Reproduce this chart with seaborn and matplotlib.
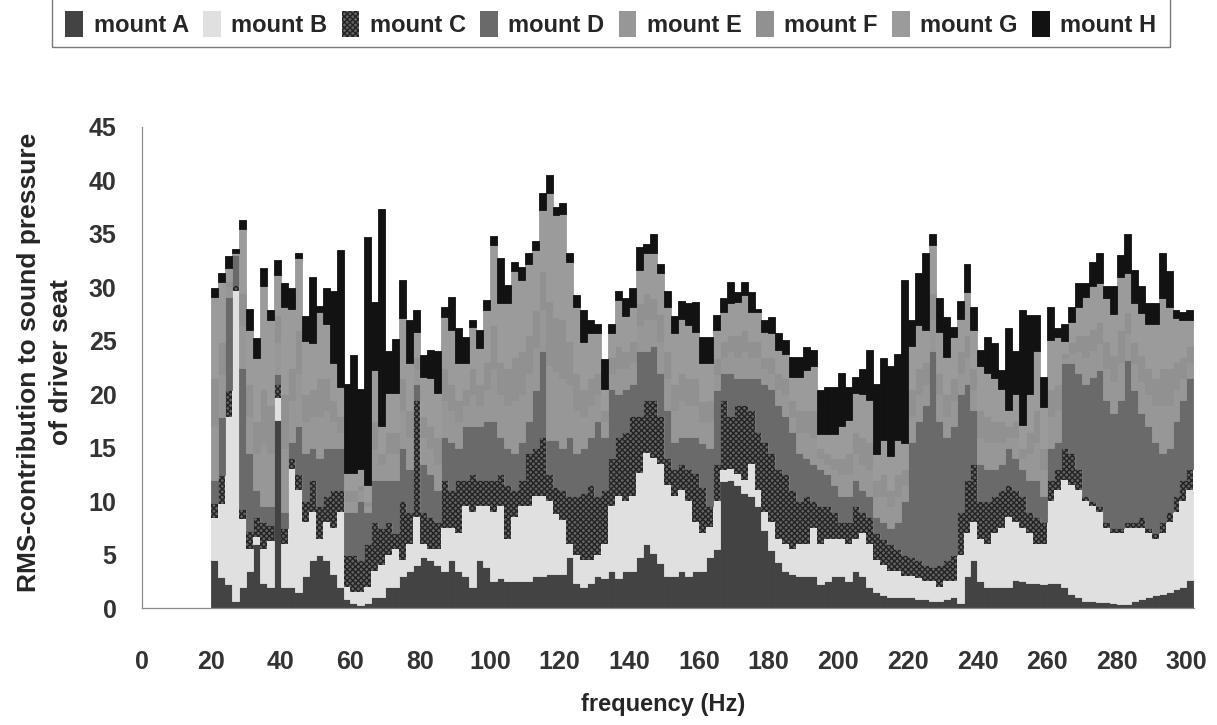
import numpy as np
import pandas as pd
import matplotlib
matplotlib.use("Agg")
import matplotlib.pyplot as plt
from matplotlib.patches import Patch, Rectangle
from matplotlib import colors as mcolors
import seaborn as sns

# frequency bins (Hz), 2 Hz wide, 20 ... 300
freqs = list(range(20, 302, 2))

# cumulative tops of the stacked layers
top_A = [4.5, 2.9, 2.2, 0.7, 2.0, 3.5, 6.0, 2.3, 2.0, 17.6,
         2.0, 2.0, 1.5, 3.0, 4.5, 5.0, 4.5, 3.2, 2.0, 0.8,
         0.5, 0.3, 0.5, 1.0, 1.0, 2.0, 2.0, 3.0, 3.5, 4.0,
         4.8, 4.5, 4.0, 3.5, 4.5, 3.5, 3.0, 2.0, 4.5, 3.8,
         2.5, 2.8, 2.5, 2.5, 2.5, 2.5, 3.0, 3.0, 3.2, 3.2,
         3.2, 4.8, 2.3, 2.0, 2.3, 3.0, 2.8, 3.5, 2.8, 3.5,
         3.5, 4.8, 6.0, 5.1, 4.2, 3.0, 3.0, 3.5, 3.0, 3.5,
         3.5, 4.8, 5.5, 11.9, 12.0, 11.5, 10.8, 10.5, 9.5, 7.3,
         5.4, 4.3, 3.5, 3.2, 3.0, 3.0, 3.0, 2.2, 2.5, 3.0,
         3.0, 2.5, 3.5, 3.0, 2.0, 1.5, 1.2, 1.0, 1.0, 1.0,
         1.0, 0.8, 0.8, 0.7, 0.7, 0.8, 1.0, 0.5, 3.0, 4.5,
         2.5, 2.0, 2.0, 2.0, 2.0, 2.6, 2.5, 2.3, 2.3, 2.2,
         2.3, 2.3, 2.0, 1.3, 1.0, 0.7, 0.7, 0.6, 0.6, 0.5,
         0.4, 0.4, 0.7, 0.8, 1.0, 1.2, 1.3, 1.5, 1.8, 2.0, 2.6]
top_B = [8.4, 9.7, 17.9, 29.7, 8.3, 5.5, 6.6, 5.5, 6.3, 19.6,
         6.0, 13.0, 11.0, 8.0, 9.0, 6.5, 8.0, 7.5, 9.0, 2.0,
         1.5, 1.5, 2.0, 3.5, 4.0, 5.0, 5.5, 4.5, 6.0, 8.5,
         6.0, 5.5, 5.5, 7.5, 7.5, 7.0, 9.5, 9.0, 9.5, 9.5,
         9.0, 9.5, 6.5, 8.5, 9.5, 9.5, 10.5, 10.5, 10.0, 8.8,
         8.2, 6.0, 5.0, 4.5, 4.5, 5.0, 6.0, 9.5, 10.5, 10.0,
         10.5, 12.6, 14.5, 14.0, 13.5, 11.5, 10.5, 11.0, 10.0, 8.0,
         7.0, 7.6, 10.0, 12.9, 13.0, 12.5, 12.0, 13.5, 11.0, 9.0,
         8.0, 6.5, 6.0, 5.5, 6.0, 6.0, 7.5, 6.0, 6.5, 6.5,
         6.5, 6.0, 6.5, 7.0, 6.0, 4.5, 4.0, 3.5, 3.5, 3.0,
         3.0, 2.8, 2.5, 2.5, 2.0, 2.5, 2.5, 5.0, 7.0, 8.0,
         6.5, 6.0, 7.0, 7.5, 8.5, 8.0, 7.5, 7.0, 6.0, 6.0,
         10.0, 11.0, 12.0, 11.5, 11.0, 10.0, 9.5, 9.0, 7.5, 7.0,
         7.0, 7.5, 7.5, 7.5, 7.0, 6.5, 7.0, 8.0, 9.0, 10.0, 11.0]
top_C = [9.8, 12.4, 20.4, 30.2, 9.3, 7.2, 8.5, 8.0, 7.8, 21.0,
         7.5, 14.0, 12.5, 10.0, 12.0, 9.5, 10.5, 11.0, 11.0, 5.0,
         5.0, 4.5, 6.0, 8.0, 7.5, 8.0, 7.0, 10.0, 9.0, 19.5,
         9.0, 8.5, 8.0, 12.0, 11.0, 12.0, 12.0, 12.5, 12.0, 12.0,
         12.0, 12.5, 11.5, 11.0, 12.0, 14.5, 15.0, 16.0, 12.5, 11.3,
         11.0, 10.5, 10.5, 10.8, 11.5, 10.5, 11.0, 14.0, 16.0, 16.5,
         18.0, 18.0, 19.5, 19.5, 18.0, 14.0, 13.0, 13.5, 13.0, 12.6,
         11.3, 9.5, 13.5, 19.5, 18.0, 19.0, 19.0, 18.5, 16.5, 15.5,
         14.5, 13.0, 12.5, 11.0, 10.0, 10.5, 10.0, 9.5, 9.5, 9.0,
         8.0, 8.0, 9.5, 9.0, 8.5, 7.0, 6.5, 6.0, 5.5, 5.0,
         4.8, 4.5, 4.0, 3.8, 4.0, 4.5, 5.0, 9.0, 12.0, 13.5,
         10.0, 10.0, 10.5, 11.0, 11.5, 11.0, 10.5, 9.0, 8.5, 8.0,
         12.0, 13.0, 15.0, 14.5, 13.0, 10.5, 10.0, 9.5, 8.0, 7.5,
         7.5, 8.0, 8.0, 8.5, 7.5, 7.0, 8.0, 9.0, 10.5, 12.0, 13.0]
top_D = [12.0, 17.9, 29.1, 33.0, 22.5, 14.5, 11.0, 9.5, 9.5, 21.9,
         9.0, 15.5, 17.0, 14.5, 15.0, 14.0, 15.0, 15.0, 15.0, 9.0,
         9.0, 10.0, 9.0, 12.0, 12.0, 12.0, 12.0, 15.0, 13.0, 21.0,
         13.5, 12.5, 11.0, 16.0, 15.5, 15.0, 17.0, 17.0, 17.0, 17.5,
         17.5, 16.0, 15.0, 14.5, 15.5, 17.5, 20.4, 24.0, 15.7, 15.7,
         15.0, 16.0, 14.5, 15.0, 16.0, 17.5, 16.0, 20.5, 20.0, 20.5,
         21.0, 24.0, 24.0, 24.5, 22.0, 18.5, 15.5, 16.0, 16.0, 16.0,
         15.4, 15.0, 20.4, 22.0, 22.0, 21.5, 21.5, 21.5, 21.5, 21.0,
         20.5, 19.0, 18.0, 16.5, 14.5, 14.0, 13.5, 13.0, 12.5, 11.5,
         10.5, 10.5, 12.0, 11.0, 10.5, 8.5, 8.0, 7.5, 8.0, 10.0,
         15.5, 17.5, 19.0, 24.0, 17.5, 16.0, 17.0, 20.0, 21.0, 18.5,
         13.5, 13.0, 13.0, 13.5, 15.0, 14.0, 13.0, 12.0, 12.0, 10.5,
         15.0, 15.5, 22.9, 22.9, 22.0, 21.0, 21.6, 22.3, 19.5, 18.2,
         19.5, 23.2, 20.4, 18.2, 17.0, 15.5, 14.5, 15.0, 17.5, 19.5, 21.5]
top_G = [29.1, 30.5, 31.8, 33.2, 35.5, 26.0, 23.4, 30.1, 26.9, 31.2,
         28.2, 28.0, 32.7, 25.0, 24.8, 27.7, 26.6, 22.9, 20.7, 12.6,
         12.6, 13.0, 11.5, 22.3, 17.0, 20.1, 20.1, 27.1, 22.9, 25.8,
         21.6, 21.5, 20.1, 27.2, 26.0, 22.9, 22.9, 26.3, 24.3, 27.9,
         34.0, 28.5, 28.5, 31.5, 30.7, 32.2, 33.5, 37.2, 38.8, 36.8,
         36.9, 32.4, 28.2, 24.9, 25.7, 25.7, 20.5, 25.7, 28.8, 27.3,
         28.2, 31.6, 33.2, 33.2, 31.3, 28.2, 25.7, 27.0, 26.5, 25.8,
         22.9, 22.9, 26.0, 27.7, 28.5, 28.6, 29.3, 27.7, 27.7, 25.8,
         25.7, 24.1, 23.8, 21.6, 21.6, 22.3, 22.6, 16.3, 16.3, 16.3,
         17.0, 17.6, 20.1, 20.0, 19.5, 14.4, 15.7, 14.2, 15.7, 15.4,
         24.5, 26.5, 26.0, 34.0, 25.8, 23.5, 25.4, 27.0, 29.6, 26.0,
         22.6, 22.0, 21.5, 20.5, 18.5, 20.0, 17.1, 20.0, 24.0, 18.8,
         25.1, 25.4, 25.0, 26.8, 28.2, 29.1, 30.1, 30.4, 29.0, 27.5,
         31.0, 31.3, 28.5, 27.6, 26.6, 26.6, 29.0, 28.2, 27.1, 26.9, 26.9]
total = [29.9, 31.3, 32.9, 33.6, 36.3, 28.0, 25.3, 31.8, 27.9, 32.6,
         30.4, 29.9, 33.2, 27.3, 31.0, 28.3, 29.9, 29.7, 33.5, 21.0,
         23.7, 20.5, 34.7, 28.6, 37.3, 24.0, 25.2, 30.7, 26.9, 27.9,
         23.7, 24.1, 24.0, 28.2, 29.1, 26.2, 25.4, 26.9, 26.0, 28.8,
         34.8, 32.7, 30.2, 32.4, 31.9, 33.2, 34.3, 38.8, 40.5, 37.5,
         37.9, 33.2, 29.3, 27.9, 26.9, 26.6, 23.3, 26.6, 29.7, 29.0,
         29.9, 33.8, 34.1, 35.0, 32.2, 29.7, 27.3, 28.7, 28.5, 28.6,
         25.4, 25.4, 27.4, 29.0, 30.5, 29.6, 30.5, 29.6, 28.0, 26.9,
         27.2, 25.7, 25.1, 23.5, 23.5, 24.4, 24.1, 20.4, 20.7, 20.7,
         22.0, 20.7, 21.6, 22.4, 24.1, 21.0, 23.4, 22.6, 23.8, 30.7,
         26.9, 31.3, 33.2, 35.0, 29.0, 27.2, 26.3, 28.7, 32.2, 28.2,
         24.1, 25.4, 24.8, 22.3, 26.2, 24.0, 27.9, 27.4, 27.4, 21.6,
         28.2, 26.2, 26.6, 28.2, 30.4, 30.4, 32.4, 33.2, 30.1, 30.1,
         33.0, 35.0, 31.6, 30.1, 28.5, 28.5, 33.2, 31.5, 27.9, 27.7, 27.9]
# mounts E and F (shades almost identical to G, estimated)
mount_E = [5.0, 4.0, 1.0, 0.1, 4.0, 3.5, 3.5, 6.0, 5.0, 3.0,
           6.0, 4.0, 5.0, 3.0, 3.0, 4.0, 3.5, 2.5, 1.5, 1.0,
           1.0, 1.0, 0.5, 3.0, 1.5, 2.5, 2.5, 3.5, 3.0, 1.5,
           2.5, 2.5, 2.5, 3.5, 3.0, 2.5, 2.0, 3.0, 2.0, 3.0,
           5.0, 4.0, 4.0, 5.0, 4.5, 4.5, 4.0, 4.0, 7.0, 6.5,
           6.5, 5.0, 4.0, 3.0, 3.0, 2.5, 1.5, 1.5, 2.5, 2.0,
           2.0, 2.5, 3.0, 2.5, 3.0, 3.0, 3.0, 3.5, 3.0, 3.0,
           2.0, 2.5, 1.5, 1.5, 2.0, 2.0, 2.5, 2.0, 2.0, 1.5,
           1.5, 1.5, 2.0, 1.5, 2.0, 2.5, 2.5, 1.0, 1.0, 1.5,
           2.0, 2.0, 2.5, 2.5, 2.5, 2.0, 2.5, 2.0, 2.5, 1.5,
           2.5, 2.5, 2.0, 3.0, 2.5, 2.0, 2.5, 2.0, 2.5, 2.0,
           2.5, 2.5, 2.5, 2.0, 1.0, 2.0, 1.0, 2.5, 3.5, 2.5,
           3.0, 3.0, 0.5, 1.0, 2.0, 2.5, 2.5, 2.5, 3.0, 3.0,
           3.5, 2.5, 2.5, 3.0, 3.0, 3.5, 4.5, 4.0, 3.0, 2.0, 1.5]
mount_F = [4.5, 3.0, 0.5, 0.0, 3.0, 3.0, 3.0, 5.0, 4.5, 2.5,
           5.0, 3.0, 4.0, 2.5, 2.5, 3.5, 3.0, 2.0, 1.5, 1.0,
           1.0, 0.5, 0.5, 2.5, 1.0, 2.0, 2.0, 3.0, 2.5, 1.0,
           2.0, 2.0, 2.5, 3.0, 2.5, 2.0, 1.5, 2.5, 2.0, 2.5,
           4.0, 3.0, 3.5, 4.0, 4.0, 3.5, 3.5, 3.5, 6.0, 5.0,
           5.5, 4.0, 3.5, 2.5, 2.5, 2.0, 1.0, 1.5, 2.0, 1.5,
           2.0, 2.0, 2.5, 2.0, 2.5, 2.5, 2.5, 2.5, 2.5, 2.5,
           2.0, 2.0, 1.5, 1.5, 1.5, 2.0, 2.0, 1.5, 1.5, 1.0,
           1.5, 1.5, 1.5, 1.5, 2.0, 2.0, 2.5, 1.0, 1.0, 1.0,
           1.5, 2.0, 2.0, 2.5, 2.5, 1.5, 2.0, 1.5, 2.0, 1.5,
           2.5, 2.5, 2.0, 2.5, 2.0, 2.0, 2.0, 2.0, 2.0, 2.0,
           2.5, 2.5, 2.0, 2.0, 1.0, 1.5, 1.0, 2.0, 3.0, 2.0,
           2.5, 2.5, 0.5, 1.0, 1.5, 2.0, 2.0, 2.0, 2.5, 2.5,
           3.0, 2.0, 2.0, 2.5, 2.5, 2.5, 3.5, 3.5, 2.5, 2.0, 1.5]

mounts = ["mount A", "mount B", "mount C", "mount D",
          "mount E", "mount F", "mount G", "mount H"]
palette = {"mount A": "#434343", "mount B": "#e0e0e0", "mount C": "#646464",
           "mount D": "#6a6a6a", "mount E": "#979797", "mount F": "#919191",
           "mount G": "#9b9b9b", "mount H": "#121212"}
HATCH_COLOR = "#232323"

A = np.array(top_A); B = np.array(top_B); C = np.array(top_C)
D = np.array(top_D); G = np.array(top_G); T = np.array(total)
E = np.array(mount_E); F = np.array(mount_F)
layers = {
    "mount A": A,
    "mount B": B - A,
    "mount C": C - B,
    "mount D": D - C,
    "mount E": E,
    "mount F": F,
    "mount G": np.clip(G - D - E - F, 0, None),
    "mount H": T - G,
}
rows = []
for m in mounts:
    for f, v in zip(freqs, layers[m]):
        rows.append({"freq": float(f) + 1.0, "mount": m, "value": float(v)})
df = pd.DataFrame(rows)

sns.set_style("white")
plt.rcParams["font.family"] = ["Liberation Sans", "DejaVu Sans"]
plt.rcParams["hatch.linewidth"] = 1.0

fig = plt.figure(figsize=(12.17, 7.25), dpi=100)
ax = fig.add_axes([141.5 / 1217, 1 - 608 / 725, 1052.6 / 1217, 481 / 725])

sns.histplot(data=df, x="freq", weights="value", hue="mount",
             hue_order=mounts[::-1], multiple="stack",
             binwidth=2, binrange=(20, 302), palette=palette, alpha=1,
             legend=False, ax=ax)

c_hex = mcolors.to_hex(palette["mount C"])
for p in ax.patches:
    fc = mcolors.to_hex(p.get_facecolor())
    if fc == c_hex:
        p.set_hatch("xxxxxx")
        p.set_edgecolor(HATCH_COLOR)
        p.set_linewidth(0)
    else:
        p.set_edgecolor(p.get_facecolor())
        p.set_linewidth(0.6)

ax.set_xlim(0, 302.2)
ax.set_ylim(0, 45)
ax.set_xticks(range(0, 301, 20))
ax.set_yticks(range(0, 46, 5))
ax.set_xlabel("")
ax.set_ylabel("")
for s in ["top", "right"]:
    ax.spines[s].set_visible(False)
for s in ["left", "bottom"]:
    ax.spines[s].set_color("#8a8a8a")
    ax.spines[s].set_linewidth(0.9)
ax.tick_params(axis="x", direction="out", length=4, width=0.8, color="#8a8a8a",
               pad=26, labelsize=18, labelcolor="#333333")
ax.tick_params(axis="y", direction="out", length=8, width=0.8, color="#8a8a8a",
               pad=10, labelsize=18, labelcolor="#333333")
for lbl in ax.get_xticklabels() + ax.get_yticklabels():
    lbl.set_fontweight("bold")

fig.text(663 / 1217, 1 - 705 / 725, "frequency (Hz)", ha="center", va="center",
         fontsize=17, fontweight="bold")
fig.text(45 / 1217, 1 - 362 / 725,
         "RMS-contribution to sound pressure\nof driver seat",
         rotation=90, ha="center", va="center", fontsize=19,
         fontweight="bold", multialignment="center", linespacing=1.45)

# legend box (top edge outside the figure)
fig.add_artist(Rectangle((52 / 1217, 1 - 47 / 725), (1170 - 52) / 1217, 0.2,
                         transform=fig.transFigure, fill=False,
                         edgecolor="#7a7a7a", linewidth=1, clip_on=False))
handles = []
for m in mounts:
    if m == "mount C":
        handles.append(Patch(facecolor=palette[m], edgecolor=HATCH_COLOR,
                             hatch="xxxxxx", linewidth=0))
    else:
        handles.append(Patch(facecolor=palette[m], edgecolor=palette[m],
                             linewidth=0))
fig.legend(handles=handles, labels=mounts, ncol=8, loc="center left",
           bbox_to_anchor=(44 / 1217, 1 - 24 / 725), frameon=False,
           handlelength=0.75, handleheight=1.3, handletextpad=0.45,
           columnspacing=0.6, prop={"weight": "bold", "size": 17})

fig.savefig("out.png", dpi=100)
